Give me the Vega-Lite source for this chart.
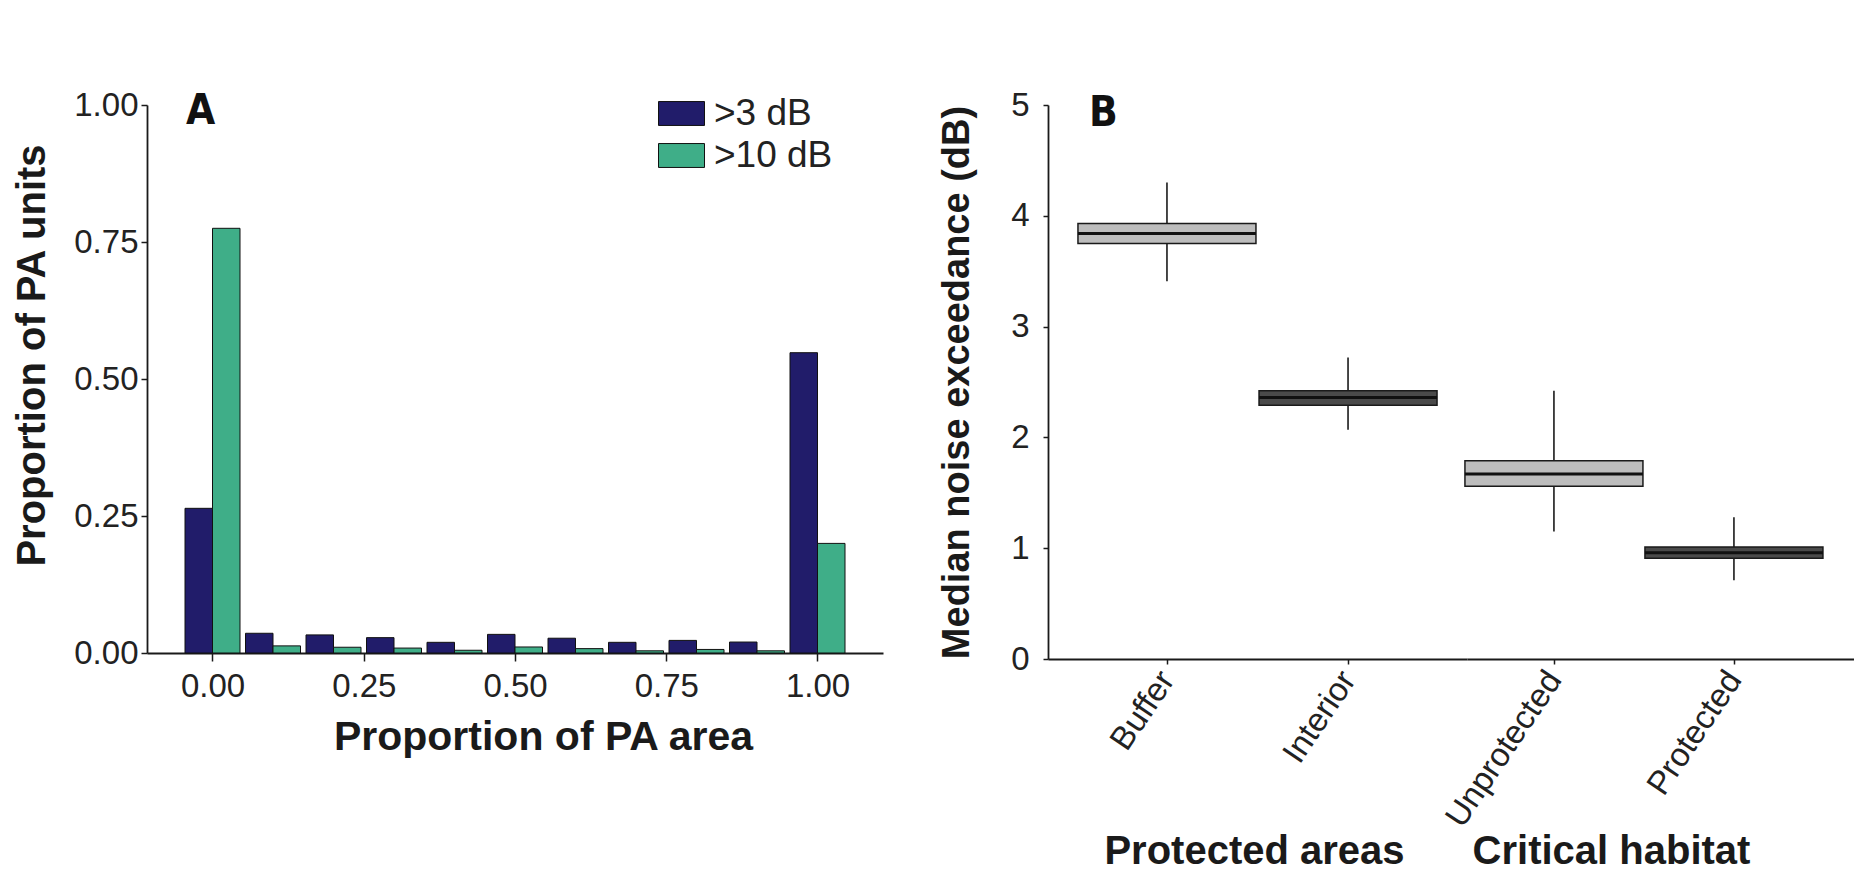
{
  "$schema": "https://vega.github.io/schema/vega-lite/v6.json",
  "background": "white",
  "padding": {"left": 11, "top": 89, "right": 0, "bottom": 0},
  "config": {
    "view": {"stroke": null},
    "font": "Liberation Sans",
    "axis": {
      "grid": false,
      "domainColor": "#1a1a1a",
      "domainWidth": 1.8,
      "tickColor": "#1a1a1a",
      "tickWidth": 1.5,
      "labelColor": "#222222",
      "titleColor": "#1a1a1a",
      "labelFont": "Liberation Sans",
      "titleFont": "Liberation Sans",
      "titleFontWeight": "bold"
    }
  },
  "resolve": {"scale": {"color": "independent"}},
  "datasets": {
    "hist": [
      {"bin": 0.0, "series": ">3 dB", "value": 0.264},
      {"bin": 0.1, "series": ">3 dB", "value": 0.036},
      {"bin": 0.2, "series": ">3 dB", "value": 0.033},
      {"bin": 0.3, "series": ">3 dB", "value": 0.028},
      {"bin": 0.4, "series": ">3 dB", "value": 0.0195},
      {"bin": 0.5, "series": ">3 dB", "value": 0.034},
      {"bin": 0.6, "series": ">3 dB", "value": 0.027},
      {"bin": 0.7, "series": ">3 dB", "value": 0.0195},
      {"bin": 0.8, "series": ">3 dB", "value": 0.023},
      {"bin": 0.9, "series": ">3 dB", "value": 0.020},
      {"bin": 1.0, "series": ">3 dB", "value": 0.548},
      {"bin": 0.0, "series": ">10 dB", "value": 0.775},
      {"bin": 0.1, "series": ">10 dB", "value": 0.013},
      {"bin": 0.2, "series": ">10 dB", "value": 0.0105},
      {"bin": 0.3, "series": ">10 dB", "value": 0.009},
      {"bin": 0.4, "series": ">10 dB", "value": 0.005},
      {"bin": 0.5, "series": ">10 dB", "value": 0.011},
      {"bin": 0.6, "series": ">10 dB", "value": 0.008},
      {"bin": 0.7, "series": ">10 dB", "value": 0.004},
      {"bin": 0.8, "series": ">10 dB", "value": 0.0065},
      {"bin": 0.9, "series": ">10 dB", "value": 0.004},
      {"bin": 1.0, "series": ">10 dB", "value": 0.200}
    ],
    "box": [
      {"group": "Protected areas", "category": "Buffer", "lower": 3.41, "q1": 3.75, "median": 3.84, "q3": 3.93, "upper": 4.30},
      {"group": "Protected areas", "category": "Interior", "lower": 2.07, "q1": 2.29, "median": 2.36, "q3": 2.42, "upper": 2.72},
      {"group": "Critical habitat", "category": "Unprotected", "lower": 1.15, "q1": 1.56, "median": 1.67, "q3": 1.79, "upper": 2.42},
      {"group": "Critical habitat", "category": "Protected", "lower": 0.71, "q1": 0.91, "median": 0.96, "q3": 1.01, "upper": 1.28}
    ]
  },
  "spacing": 54,
  "hconcat": [
    {
      "width": 736,
      "height": 548,
      "data": {"name": "hist"},
      "title": {"text": "A", "orient": "top", "anchor": "start", "frame": "group", "baseline": "alphabetic", "offset": -77, "dx": 39, "font": "DejaVu Sans Condensed", "fontSize": 42, "fontWeight": "bold", "color": "#111111"},
      "encoding": {
        "x": {
          "field": "bin", "type": "quantitative",
          "scale": {"domain": [-0.1, 1.1], "nice": false, "zero": false},
          "axis": {"values": [0, 0.25, 0.5, 0.75, 1], "format": ".2f", "labelFontSize": 33, "tickSize": 8, "labelPadding": 9, "title": "Proportion of PA area", "titleFontSize": 41, "titleX": 396, "titleY": 96, "titleBaseline": "alphabetic", "titleAnchor": "middle"}
        },
        "y": {
          "field": "value", "type": "quantitative",
          "scale": {"domain": [0, 1], "nice": false},
          "axis": {"values": [0, 0.25, 0.5, 0.75, 1], "format": ".2f", "labelFontSize": 33, "tickSize": 6, "labelPadding": 3, "title": "Proportion of PA units", "titleFontSize": 40, "titleX": -103, "titleY": 250, "titleBaseline": "alphabetic", "titleAngle": -90}
        },
        "color": {
          "field": "series", "type": "nominal",
          "scale": {"domain": [">3 dB", ">10 dB"], "range": ["#211c6a", "#3fae88"]},
          "legend": {"orient": "none", "legendX": 511, "legendY": -15, "title": null, "padding": 0, "symbolType": "M-1,-0.52H1V0.52H-1Z", "symbolSize": 2116, "symbolStrokeColor": "#111111", "symbolStrokeWidth": 1, "symbolOpacity": 1, "labelFontSize": 37, "labelOffset": 9, "labelColor": "#222222", "rowPadding": -6}
        }
      },
      "layer": [
        {
          "transform": [{"filter": "datum.series === '>3 dB'"}],
          "mark": {"type": "bar", "width": 27.5, "xOffset": -13.75, "stroke": "#111111", "strokeWidth": 1, "opacity": 1}
        },
        {
          "transform": [{"filter": "datum.series === '>10 dB'"}],
          "mark": {"type": "bar", "width": 27.5, "xOffset": 13.75, "stroke": "#111111", "strokeWidth": 1, "opacity": 1}
        }
      ]
    },
    {
      "spacing": 0,
      "bounds": "flush",
      "hconcat": [
        {
          "width": 419,
          "height": 554,
          "data": {"name": "box"},
          "transform": [{"filter": "datum.group === 'Protected areas'"}],
          "title": {"text": "B", "orient": "top", "anchor": "start", "frame": "group", "baseline": "alphabetic", "offset": -79, "dx": 41, "font": "DejaVu Sans Condensed", "fontSize": 42, "fontWeight": "bold", "color": "#111111"},
          "encoding": {
            "x": {
              "field": "category", "type": "nominal", "sort": null,
              "scale": {"type": "point", "padding": 0.657, "align": 0.5},
              "axis": {"labelAngle": -56, "labelAlign": "right", "labelBaseline": "middle", "labelFontSize": 33, "tickSize": 5, "labelPadding": 10, "title": "Protected areas", "titleFontSize": 40, "titleX": 206, "titleY": 204, "titleBaseline": "alphabetic", "titleAnchor": "middle"}
            }
          },
          "layer": [
            {
              "mark": {"type": "rule", "color": "#1a1a1a", "strokeWidth": 1.6},
              "encoding": {
                "y": {"field": "lower", "type": "quantitative", "scale": {"domain": [0, 5], "nice": false},
                  "axis": {"values": [0, 1, 2, 3, 4, 5], "format": "d", "labelFontSize": 33, "tickSize": 5, "labelPadding": 14, "title": "Median noise exceedance (dB)", "titleFontSize": 38, "titleX": -80, "titleBaseline": "alphabetic", "titleAngle": -90}},
                "y2": {"field": "upper"}
              }
            },
            {
              "mark": {"type": "bar", "width": 178, "stroke": "#1a1a1a", "strokeWidth": 1.5, "opacity": 1},
              "encoding": {
                "y": {"field": "q1", "type": "quantitative"},
                "y2": {"field": "q3"},
                "color": {"field": "category", "type": "nominal", "scale": {"domain": ["Buffer", "Interior", "Unprotected", "Protected"], "range": ["#bdbdbd", "#4a4a4a", "#bdbdbd", "#4a4a4a"]}, "legend": null}
              }
            },
            {
              "mark": {"type": "tick", "size": 178, "thickness": 3, "color": "#111111", "opacity": 1},
              "encoding": {"y": {"field": "median", "type": "quantitative"}}
            }
          ]
        },
        {
          "width": 387,
          "height": 554,
          "data": {"name": "box"},
          "transform": [{"filter": "datum.group === 'Critical habitat'"}],
          "encoding": {
            "x": {
              "field": "category", "type": "nominal", "sort": null,
              "scale": {"type": "point", "padding": 0.575, "align": 0.42},
              "axis": {"labelAngle": -56, "labelAlign": "right", "labelBaseline": "middle", "labelFontSize": 33, "tickSize": 5, "labelPadding": 10, "title": "Critical habitat", "titleFontSize": 40, "titleX": 144, "titleY": 204, "titleBaseline": "alphabetic", "titleAnchor": "middle"}
            }
          },
          "layer": [
            {
              "mark": {"type": "rule", "color": "#1a1a1a", "strokeWidth": 1.6},
              "encoding": {
                "y": {"field": "lower", "type": "quantitative", "scale": {"domain": [0, 5], "nice": false}, "axis": null},
                "y2": {"field": "upper"}
              }
            },
            {
              "mark": {"type": "bar", "width": 178, "stroke": "#1a1a1a", "strokeWidth": 1.5, "opacity": 1},
              "encoding": {
                "y": {"field": "q1", "type": "quantitative"},
                "y2": {"field": "q3"},
                "color": {"field": "category", "type": "nominal", "scale": {"domain": ["Buffer", "Interior", "Unprotected", "Protected"], "range": ["#bdbdbd", "#4a4a4a", "#bdbdbd", "#4a4a4a"]}, "legend": null}
              }
            },
            {
              "mark": {"type": "tick", "size": 178, "thickness": 3, "color": "#111111", "opacity": 1},
              "encoding": {"y": {"field": "median", "type": "quantitative"}}
            }
          ]
        }
      ]
    }
  ]
}
